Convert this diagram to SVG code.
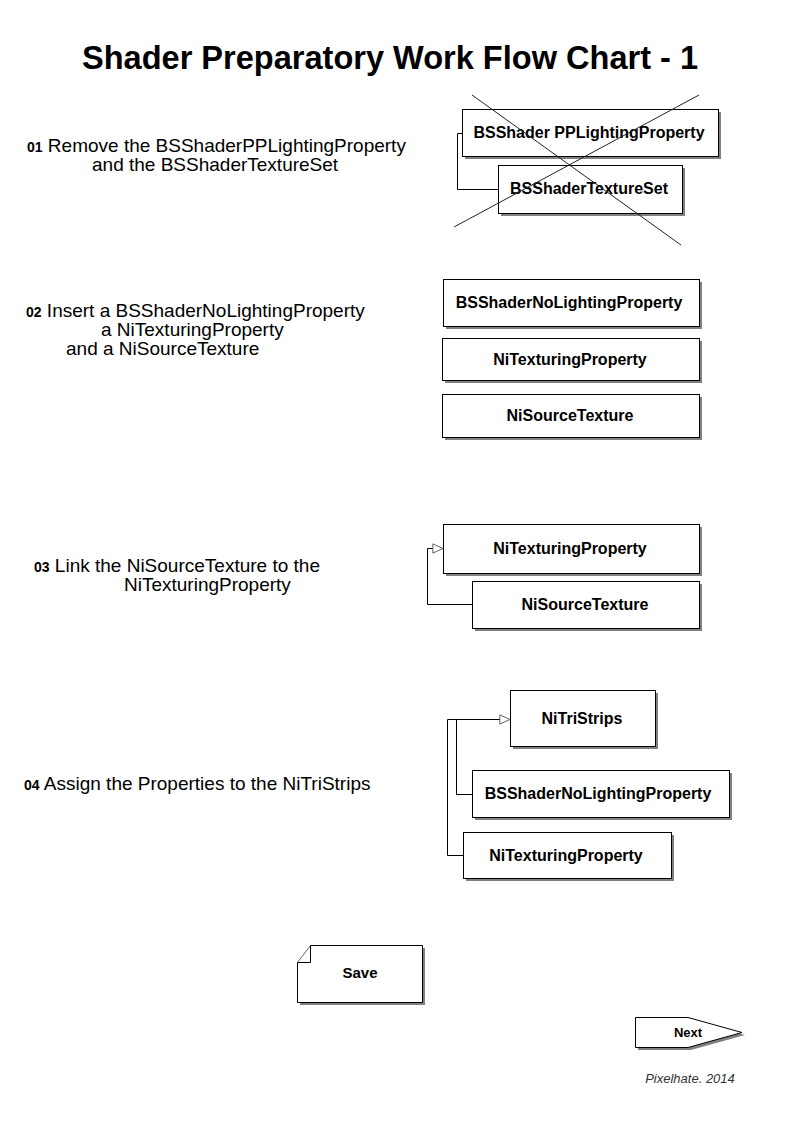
<svg xmlns="http://www.w3.org/2000/svg" width="793" height="1123" viewBox="0 0 793 1123">
<style>
.bg{fill:#fff}
.shadow{fill:#808080}
.box{fill:#fff;stroke:#000;stroke-width:1}
.lbl{font-family:"Liberation Sans",Arial,sans-serif;font-weight:bold;font-size:16px;fill:#000;text-anchor:middle}
.txt{font-family:"Liberation Sans",Arial,sans-serif;font-size:19px;fill:#000}
.num{font-weight:bold;font-size:14px}
.conn{fill:none;stroke:#000;stroke-width:1}
.cross{stroke:#222;stroke-width:1}
</style>
<defs>
<marker id="tri" markerUnits="userSpaceOnUse" markerWidth="12" markerHeight="12" refX="11" refY="5" orient="auto" viewBox="-1 -1 13 12">
<path d="M0,0 L11,5 L0,10 Z" fill="#fff" stroke="#555" stroke-width="1"/>
</marker>
</defs>
<rect class="bg" x="0" y="0" width="793" height="1123"/>
<text x="390" y="69" text-anchor="middle" font-family="Liberation Sans, Arial, sans-serif" font-weight="bold" font-size="33" textLength="616" lengthAdjust="spacingAndGlyphs">Shader Preparatory Work Flow Chart - 1</text>

<g id="step-texts">
<text class="txt" x="27" y="152"><tspan class="num">01</tspan> Remove the BSShaderPPLightingProperty</text>
<text class="txt" x="92" y="171">and the BSShaderTextureSet</text>
<text class="txt" x="26" y="317"><tspan class="num">02</tspan> Insert a BSShaderNoLightingProperty</text>
<text class="txt" x="101" y="336">a NiTexturingProperty</text>
<text class="txt" x="66" y="355">and a NiSourceTexture</text>
<text class="txt" x="34" y="572"><tspan class="num">03</tspan> Link the NiSourceTexture to the</text>
<text class="txt" x="124" y="591">NiTexturingProperty</text>
<text class="txt" x="24" y="790"><tspan class="num">04</tspan> Assign the Properties to the NiTriStrips</text>
</g>

<g id="connectors">
<path class="conn" d="M462.5,133.5 H457.5 V189.5 H498.5"/>
<path class="conn" d="M472.5,604.5 H427.5 V548.5 H443" marker-end="url(#tri)"/>
<path class="conn" d="M463.5,855.5 H447.5 V719.5 H510" marker-end="url(#tri)"/>
<path class="conn" d="M472.5,794.5 H456.5 V719.5"/>
</g>

<g id="n1"><rect class="shadow" x="465" y="112" width="256" height="47"/><rect class="box" x="462.5" y="109.5" width="256" height="47"/><text class="lbl" x="589" y="138">BSShader PPLightingProperty</text></g>
<g id="n2"><rect class="shadow" x="501" y="168" width="184" height="48"/><rect class="box" x="498.5" y="165.5" width="184" height="48"/><text class="lbl" x="589" y="194">BSShaderTextureSet</text></g>
<g id="cross"><line class="cross" x1="472" y1="95" x2="681" y2="245"/><line class="cross" x1="454" y1="227" x2="699" y2="95"/></g>

<g id="n3"><rect class="shadow" x="446" y="282" width="256" height="47"/><rect class="box" x="443.5" y="279.5" width="256" height="47"/><text class="lbl" x="569" y="308">BSShaderNoLightingProperty</text></g>
<g id="n4"><rect class="shadow" x="445" y="341" width="257" height="42"/><rect class="box" x="442.5" y="338.5" width="257" height="42"/><text class="lbl" x="570" y="365">NiTexturingProperty</text></g>
<g id="n5"><rect class="shadow" x="445" y="397" width="257" height="43"/><rect class="box" x="442.5" y="394.5" width="257" height="43"/><text class="lbl" x="570" y="421">NiSourceTexture</text></g>

<g id="n6"><rect class="shadow" x="446" y="527" width="256" height="49"/><rect class="box" x="443.5" y="524.5" width="256" height="49"/><text class="lbl" x="570" y="554">NiTexturingProperty</text></g>
<g id="n7"><rect class="shadow" x="475" y="584" width="227" height="47"/><rect class="box" x="472.5" y="581.5" width="227" height="47"/><text class="lbl" x="585" y="610">NiSourceTexture</text></g>

<g id="n8"><rect class="shadow" x="513" y="693" width="145" height="56"/><rect class="box" x="510.5" y="690.5" width="145" height="56"/><text class="lbl" x="582" y="724">NiTriStrips</text></g>
<g id="n9"><rect class="shadow" x="475" y="773" width="257" height="47"/><rect class="box" x="472.5" y="770.5" width="257" height="47"/><text class="lbl" x="598" y="799">BSShaderNoLightingProperty</text></g>
<g id="n10"><rect class="shadow" x="466" y="835" width="208" height="46"/><rect class="box" x="463.5" y="832.5" width="208" height="46"/><text class="lbl" x="566" y="861">NiTexturingProperty</text></g>

<g id="save">
<path class="shadow" d="M313,948 H425 V1005 H300 V965 Z"/>
<path d="M310.5,945.5 H422.5 V1002.5 H297.5 V962.5" fill="#fff" stroke="#000"/>
<path d="M297.5,962.5 L310.5,945.5" fill="none" stroke="#666"/>
<path d="M310.5,945.5 V962.5 H297.5" fill="none" stroke="#000"/>
<text class="lbl" x="360" y="978" style="font-size:15px">Save</text>
</g>

<g id="next">
<path class="shadow" d="M638,1020 H691 L745,1035 L691,1050 H638 Z"/>
<path d="M635.5,1017.5 H688 L742,1032.5 L688,1047.5 H635.5 Z" fill="#fff" stroke="#000"/>
<text class="lbl" x="688" y="1037" style="font-size:13px">Next</text>
</g>

<text x="690" y="1083" text-anchor="middle" font-family="Liberation Sans, Arial, sans-serif" font-style="italic" font-size="13" fill="#333">Pixelhate. 2014</text>
</svg>
